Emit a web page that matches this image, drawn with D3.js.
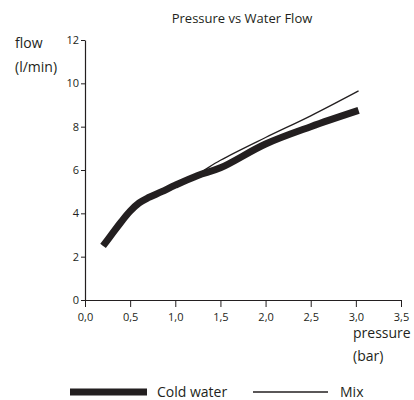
<!DOCTYPE html>
<html><head><meta charset="utf-8">
<script src="https://cdn.jsdelivr.net/npm/d3@7"></script>
<style>body{margin:0;background:#fff}svg{display:block}text{font-family:"Open Sans","Noto Sans",sans-serif;fill:#231f20}</style>
</head><body><svg id="c" width="414" height="400"></svg>
<script>
const pressureCold = [0.2, 0.3, 0.4, 0.5, 0.6, 0.7, 0.85, 1.0, 1.25, 1.5, 2.0, 2.5, 3.03];
const flowCold     = [2.5, 3.05, 3.6, 4.1, 4.48, 4.72, 5.0, 5.3, 5.75, 6.1, 7.2, 8.0, 8.75];
const pressureMix  = [0.2, 0.3, 0.4, 0.5, 0.6, 0.7, 0.85, 1.0, 1.25, 1.5, 2.0, 2.5, 3.03];
const flowMix      = [2.5, 3.05, 3.6, 4.1, 4.48, 4.72, 5.0, 5.3, 5.82, 6.45, 7.5, 8.5, 9.65];
const xTicks = [0, 0.5, 1.0, 1.5, 2.0, 2.5, 3.0, 3.5];
const yTicks = [0, 2, 4, 6, 8, 10, 12];
const seriesNames = ["Cold water", "Mix"];

const svg = d3.select("#c");
const x = d3.scaleLinear().domain([0, 3.5]).range([85, 401]);
const y = d3.scaleLinear().domain([0, 12]).range([300, 40]);
const fmt = d => d.toFixed(1).replace(".", ",");

const xa = svg.append("g").attr("transform", "translate(0,300)")
  .call(d3.axisBottom(x).tickValues(xTicks).tickFormat(fmt).tickSizeInner(7).tickSizeOuter(0).tickPadding(6));
const ya = svg.append("g").attr("transform", "translate(85,0)")
  .call(d3.axisLeft(y).tickValues(yTicks).tickSizeInner(4).tickSizeOuter(0).tickPadding(2));
[xa, ya].forEach(a => {
  a.select(".domain").attr("stroke", "#231f20").attr("stroke-width", 1.2);
  a.selectAll(".tick line").attr("stroke", "#231f20").attr("stroke-width", 1);
  a.selectAll("text").attr("font-size", 11).attr("fill", "#231f20").style("font-family", '"Open Sans","Noto Sans",sans-serif');
});

const line = d3.line().x(d => x(d[0])).y(d => y(d[1])).curve(d3.curveCatmullRom.alpha(0.5));
const mix = pressureMix.map((p, i) => [p, flowMix[i]]);
const cold = pressureCold.map((p, i) => [p, flowCold[i]]);
svg.append("path").datum(mix).attr("d", line).attr("fill", "none").attr("stroke", "#231f20").attr("stroke-width", 1.3);
svg.append("path").datum(cold).attr("d", line).attr("fill", "none").attr("stroke", "#231f20").attr("stroke-width", 7);

svg.append("text").attr("x", 242).attr("y", 23).attr("text-anchor", "middle").attr("font-size", 13).text("Pressure vs Water Flow");
svg.append("text").attr("x", 15).attr("y", 48).attr("font-size", 14).text("flow");
svg.append("text").attr("x", 15).attr("y", 72).attr("font-size", 14).text("(l/min)");
svg.append("text").attr("x", 353).attr("y", 338).attr("font-size", 14).text("pressure");
svg.append("text").attr("x", 353).attr("y", 361).attr("font-size", 14).text("(bar)");

svg.append("line").attr("x1", 70).attr("x2", 147).attr("y1", 392).attr("y2", 392).attr("stroke", "#231f20").attr("stroke-width", 7);
svg.append("text").attr("x", 157).attr("y", 397).attr("font-size", 14).text(seriesNames[0]);
svg.append("line").attr("x1", 253).attr("x2", 328).attr("y1", 392).attr("y2", 392).attr("stroke", "#231f20").attr("stroke-width", 1.3);
svg.append("text").attr("x", 340).attr("y", 397).attr("font-size", 14).text(seriesNames[1]);
</script></body></html>
